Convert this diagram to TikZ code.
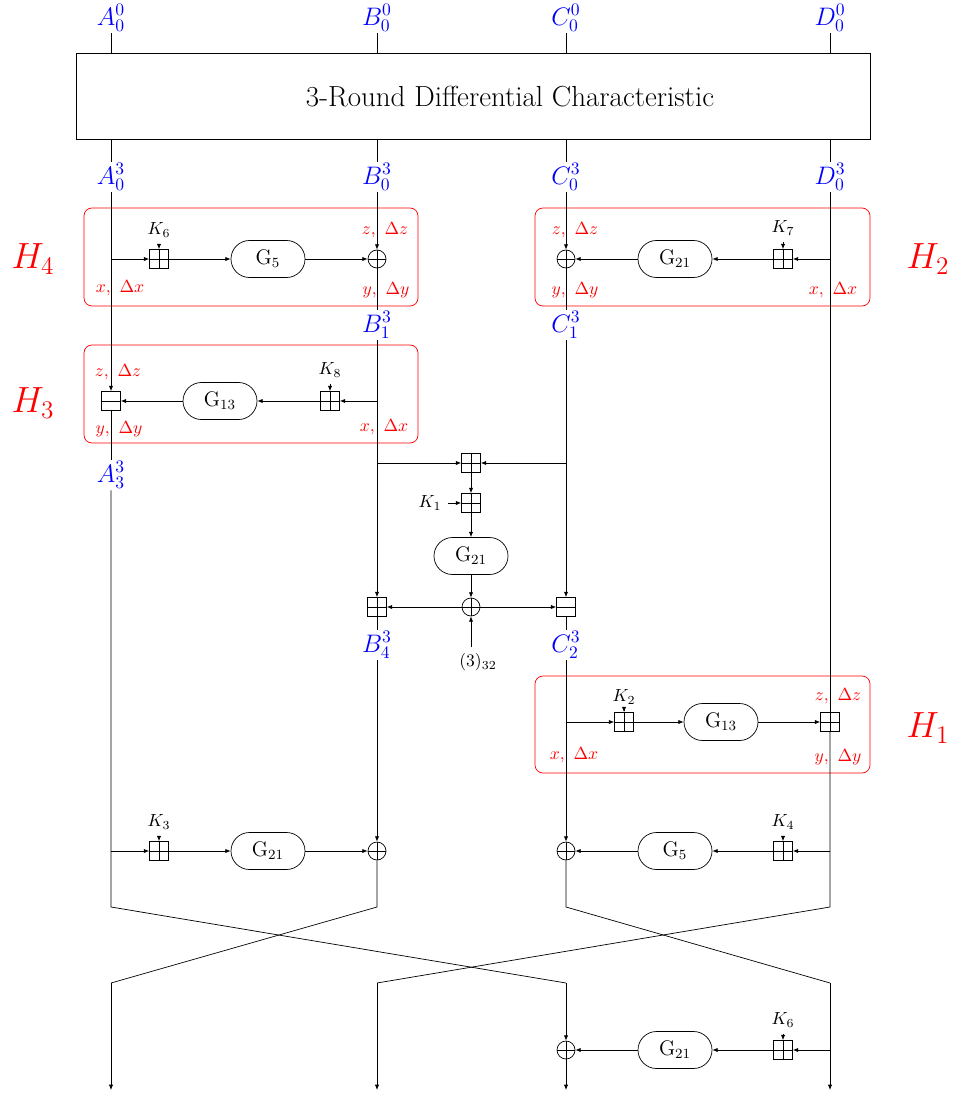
\documentclass[tikz,border=0pt]{standalone}
\usepackage{amsmath}
\usepackage{tikz}
\usetikzlibrary{arrows.meta, positioning, calc}
\definecolor{myblue}{RGB}{0,0,255}
\definecolor{myred}{RGB}{255,0,0}
\tikzset{
  opbox/.style={rectangle, draw, minimum size=3.8mm, inner sep=0pt},
  addbox/.style={opbox, path picture={
      \draw (path picture bounding box.north) -- (path picture bounding box.south)
            (path picture bounding box.west) -- (path picture bounding box.east);}},
  subbox/.style={opbox, path picture={
      \draw (path picture bounding box.west) -- (path picture bounding box.east);}},
  xorop/.style={circle, draw, minimum size=3.6mm, inner sep=0pt, path picture={
      \draw (path picture bounding box.north) -- (path picture bounding box.south)
            (path picture bounding box.west) -- (path picture bounding box.east);}},
  gbox/.style={rectangle, draw, rounded corners=3.7mm, minimum width=14.8mm,
    minimum height=7.4mm, inner sep=0pt, font=\large},
  hbox/.style={draw=myred, rounded corners=1.6mm},
  varlbl/.style={text=myblue, font=\fontsize{14}{17}\selectfont, inner sep=1pt},
  difflbl/.style={text=myred, inner sep=0pt},
  hname/.style={text=myred, font=\huge},
  arrow/.style={-{Latex[length=3pt,width=2.4pt]}},
  line/.style={thin}
}

\begin{document}
\begin{tikzpicture}[x=2mm, y=-2mm]
  \useasboundingbox (0,0) rectangle (95.3,109.6);

  % Characteristic block
  \node[varlbl] (A00) at (11.1,1.8) {$A_0^0$};
  \node[varlbl] (B00) at (37.7,1.8) {$B_0^0$};
  \node[varlbl] (C00) at (56.6,1.8) {$C_0^0$};
  \node[varlbl] (D00) at (83.0,1.8) {$D_0^0$};
  \node[draw, minimum width=158.8mm, minimum height=17.2mm, inner sep=0pt] (rnd) at (47.3,9.6) {};
  \node[font=\fontsize{16.5}{20}\selectfont] (ttl) at (51.0,9.7) {3-Round Differential Characteristic};
  \draw[line] (A00) -- (A00 |- rnd.north);
  \draw[line] (B00) -- (B00 |- rnd.north);
  \draw[line] (C00) -- (C00 |- rnd.north);
  \draw[line] (D00) -- (D00 |- rnd.north);

  \node[varlbl] (A03) at (11.1,17.7) {$A_0^3$};
  \node[varlbl] (B03) at (37.7,17.7) {$B_0^3$};
  \node[varlbl] (C03) at (56.6,17.7) {$C_0^3$};
  \node[varlbl] (D03) at (83.0,17.7) {$D_0^3$};
  \draw[line] (A03 |- rnd.south) -- (A03);
  \draw[line] (B03 |- rnd.south) -- (B03);
  \draw[line] (C03 |- rnd.south) -- (C03);
  \draw[line] (D03 |- rnd.south) -- (D03);

  % H4
  \draw[hbox] (8.4,20.8) rectangle (41.8,30.6);
  \node[hname] (H4) at (3.3,25.9) {$H_4$};
  \coordinate (a1) at (11.1,25.9);
  \node[addbox] (k6a) at (15.9,25.9) {};
  \node (K6a) at (15.9,23.0) {$K_6$};
  \node[gbox] (g5a) at (26.8,25.9) {$\mathrm{G}_5$};
  \node[xorop] (x1) at (37.7,25.9) {};
  \node[difflbl] (z4) at (38.5,23.0) {$z,~\Delta z$};
  \node[difflbl] (xl4) at (12.0,28.8) {$x,~\Delta x$};
  \node[difflbl] (y4) at (38.6,29.0) {$y,~\Delta y$};
  \draw[arrow] (a1) -- (k6a);
  \draw[arrow] (K6a) -- (k6a);
  \draw[arrow] (k6a) -- (g5a);
  \draw[arrow] (g5a) -- (x1);

  % H2
  \draw[hbox] (53.5,20.8) rectangle (87.0,30.6);
  \node[hname] (H2) at (92.8,25.9) {$H_2$};
  \node[xorop] (x2) at (56.6,25.9) {};
  \node[gbox] (g21a) at (67.5,25.9) {$\mathrm{G}_{21}$};
  \node[addbox] (k7) at (78.3,25.9) {};
  \node (K7) at (78.3,22.8) {$K_7$};
  \coordinate (d1) at (83.0,25.9);
  \node[difflbl] (z2) at (57.5,23.0) {$z,~\Delta z$};
  \node[difflbl] (y2) at (57.5,29.0) {$y,~\Delta y$};
  \node[difflbl] (xl2) at (83.3,29.0) {$x,~\Delta x$};
  \draw[arrow] (d1) -- (k7);
  \draw[arrow] (K7) -- (k7);
  \draw[arrow] (k7) -- (g21a);
  \draw[arrow] (g21a) -- (x2);

  \node[varlbl] (B13) at (37.7,32.5) {$B_1^3$};
  \node[varlbl] (C13) at (56.6,32.5) {$C_1^3$};
  \draw[arrow] (B03) -- (x1);
  \draw[line] (x1) -- (B13);
  \draw[arrow] (C03) -- (x2);
  \draw[line] (x2) -- (C13);

  % H3
  \draw[hbox] (8.4,34.5) rectangle (41.8,44.3);
  \node[hname] (H3) at (3.3,40.3) {$H_3$};
  \node[subbox] (s3) at (11.1,40.1) {};
  \node[gbox] (g13a) at (22.0,40.1) {$\mathrm{G}_{13}$};
  \node[addbox] (k8) at (33.0,40.1) {};
  \node (K8) at (33.0,37.0) {$K_8$};
  \coordinate (b1) at (37.7,40.1);
  \node[difflbl] (z3) at (11.8,37.2) {$z,~\Delta z$};
  \node[difflbl] (y3) at (11.9,42.9) {$y,~\Delta y$};
  \node[difflbl] (xl3) at (38.4,42.7) {$x,~\Delta x$};
  \draw[arrow] (b1) -- (k8);
  \draw[arrow] (K8) -- (k8);
  \draw[arrow] (k8) -- (g13a);
  \draw[arrow] (g13a) -- (s3);

  \node[varlbl] (A33) at (11.1,47.5) {$A_3^3$};
  \draw[arrow] (A03) -- (s3);
  \draw[line] (s3) -- (A33);

  % middle mixing
  \coordinate (b2) at (37.7,46.3);
  \coordinate (c1) at (56.6,46.3);
  \node[addbox] (m1) at (47.1,46.3) {};
  \node[addbox] (m2) at (47.1,50.3) {};
  \node (K1) at (43.0,50.3) {$K_1$};
  \node[gbox] (g21b) at (47.1,55.6) {$\mathrm{G}_{21}$};
  \node[xorop] (m3) at (47.1,60.7) {};
  \node (c32) at (47.8,66.2) {$(3)_{32}$};
  \node[addbox] (b4) at (37.7,60.7) {};
  \node[subbox] (c2) at (56.6,60.7) {};
  \node[varlbl] (B43) at (37.7,64.5) {$B_4^3$};
  \node[varlbl] (C23) at (56.6,64.5) {$C_2^3$};
  \draw[arrow] (B13) -- (b4);
  \draw[arrow] (C13) -- (c2);
  \draw[arrow] (b2) -- (m1);
  \draw[arrow] (c1) -- (m1);
  \draw[arrow] (m1) -- (m2);
  \draw[arrow] (K1) -- (m2);
  \draw[arrow] (m2) -- (g21b);
  \draw[arrow] (g21b) -- (m3);
  \draw[arrow] (m3) -- (b4);
  \draw[arrow] (m3) -- (c2);
  \draw[arrow] (c32.north -| m3) -- (m3);
  \draw[line] (b4) -- (B43);
  \draw[line] (c2) -- (C23);

  % H1
  \draw[hbox] (53.5,67.6) rectangle (87.0,77.3);
  \node[hname] (H1) at (92.8,72.8) {$H_1$};
  \coordinate (c3) at (56.6,72.2);
  \node[addbox] (k2) at (62.4,72.2) {};
  \node (K2) at (62.4,69.7) {$K_2$};
  \node[gbox] (g13b) at (72.1,72.2) {$\mathrm{G}_{13}$};
  \node[addbox] (d2) at (83.0,72.2) {};
  \node[difflbl] (z1) at (83.8,69.6) {$z,~\Delta z$};
  \node[difflbl] (xl1) at (57.4,75.5) {$x,~\Delta x$};
  \node[difflbl] (y1) at (83.8,75.7) {$y,~\Delta y$};
  \draw[arrow] (c3) -- (k2);
  \draw[arrow] (K2) -- (k2);
  \draw[arrow] (k2) -- (g13b);
  \draw[arrow] (g13b) -- (d2);
  \draw[line] (D03) -- (d2);

  % last round before the swap
  \coordinate (a2) at (11.1,85.1);
  \node[addbox] (k3) at (15.9,85.1) {};
  \node (K3) at (15.9,82.2) {$K_3$};
  \node[gbox] (g21c) at (26.8,85.1) {$\mathrm{G}_{21}$};
  \node[xorop] (x3) at (37.7,85.1) {};
  \coordinate (d3) at (83.0,85.1);
  \node[addbox] (k4) at (78.3,85.1) {};
  \node (K4) at (78.3,82.2) {$K_4$};
  \node[gbox] (g5b) at (67.5,85.1) {$\mathrm{G}_5$};
  \node[xorop] (x4) at (56.6,85.1) {};
  \draw[arrow] (a2) -- (k3);
  \draw[arrow] (K3) -- (k3);
  \draw[arrow] (k3) -- (g21c);
  \draw[arrow] (g21c) -- (x3);
  \draw[arrow] (B43) -- (x3);
  \draw[arrow] (d3) -- (k4);
  \draw[arrow] (K4) -- (k4);
  \draw[arrow] (k4) -- (g5b);
  \draw[arrow] (g5b) -- (x4);
  \draw[arrow] (C23) -- (x4);

  % word swap
  \coordinate (pa) at (11.1,90.7);
  \coordinate (pb) at (37.7,90.7);
  \coordinate (pc) at (56.6,90.7);
  \coordinate (pd) at (83.0,90.7);
  \coordinate (qa) at (11.1,98.3);
  \coordinate (qb) at (37.7,98.3);
  \coordinate (qc) at (56.6,98.3);
  \coordinate (qd) at (83.0,98.3);
  \draw[line] (A33) -- (pa) -- (qc);
  \draw[line] (x3) -- (pb) -- (qa);
  \draw[line] (x4) -- (pc) -- (qd);
  \draw[line] (d2) -- (pd) -- (qb);

  % output whitening
  \coordinate (ea) at (11.1,109.0);
  \coordinate (eb) at (37.7,109.0);
  \coordinate (ec) at (56.6,109.0);
  \coordinate (ed) at (83.0,109.0);
  \node[xorop] (x5) at (56.6,105.0) {};
  \coordinate (d5) at (83.0,105.0);
  \node[addbox] (k6b) at (78.3,105.0) {};
  \node (K6b) at (78.3,102.0) {$K_6$};
  \node[gbox] (g21d) at (67.5,105.0) {$\mathrm{G}_{21}$};
  \draw[arrow] (qa) -- (ea);
  \draw[arrow] (qb) -- (eb);
  \draw[arrow] (qc) -- (x5);
  \draw[arrow] (x5) -- (ec);
  \draw[arrow] (qd) -- (ed);
  \draw[arrow] (d5) -- (k6b);
  \draw[arrow] (K6b) -- (k6b);
  \draw[arrow] (k6b) -- (g21d);
  \draw[arrow] (g21d) -- (x5);
\end{tikzpicture}
\end{document}
